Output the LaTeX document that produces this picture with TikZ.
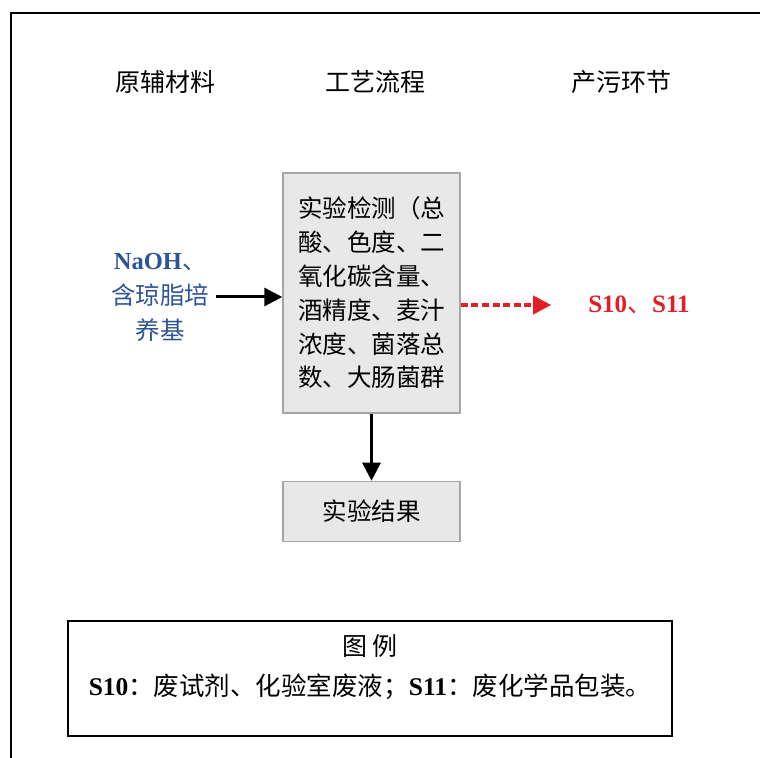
\documentclass[tikz,border=0pt]{standalone}
\usepackage{fontspec}
\setmainfont{Liberation Serif}
\newfontfamily\cjk{Noto Sans CJK SC}
\usepackage{xcolor}
\usepackage{tikz}
\usetikzlibrary{arrows.meta,positioning}
\definecolor{matblue}{RGB}{47,84,150}
\definecolor{polred}{RGB}{228,30,38}
\definecolor{boxgray}{RGB}{232,232,232}

\begin{document}
\begin{tikzpicture}[x=0.5pt,y=-0.5pt,>={Triangle[length=9pt,width=9pt]},
  head/.style={font=\cjk\fontsize{12.5}{15}\selectfont},
  proc/.style={draw=black!35,fill=boxgray,line width=0.7pt,
               font=\cjk\fontsize{12.25}{16.9}\selectfont},
  flow/.style={->,line width=1.5pt}]
  \useasboundingbox (0,0) rectangle (760,758);
  \draw[line width=1pt] (11,758) -- (11,13) -- (760,13);

  \node(h1) at (165,82) [head] {原辅材料};
  \node(h2) at (375,82) [head] {工艺流程};
  \node(h3) at (621,82) [head] {产污环节};

  \node(test) at (371.5,293) [proc, minimum width=88.5pt, minimum height=120pt,
             text width=73.5pt, align=left, inner xsep=7.5pt]
  {实验检测（总\\酸、色度、二\\氧化碳含量、\\酒精度、麦汁\\浓度、菌落总\\数、大肠菌群};

  \node(res)[proc, below=33.5pt of test, minimum width=88.5pt,
             minimum height=30pt] {实验结果};

  \node(mat)[left=33pt of test, yshift=-2pt, align=center, text=matblue,
             font=\fontsize{12.25}{17.5}\selectfont]
  {\bfseries NaOH{\cjk\mdseries 、}\\{\cjk 含琼脂培}\\{\cjk 养基}};

  \node(s) at (639,305) [text=polred, font=\fontsize{12.5}{15}\selectfont]
  {\bfseries S10{\cjk\mdseries 、}S11};

  \draw[flow] (mat) -- (mat -| test.west);
  \draw[flow] (test) -- (res);
  \draw[->,polred,line width=1.8pt,dash pattern=on 3.5pt off 1.8pt,
        shorten >=15pt] (test.east |- s.west) -- (s.west);

  \node(leg) at (370,678.5) [draw, line width=1pt, minimum width=302pt,
             minimum height=57.5pt] {};
  \node(legtitle) at (370,646) [head] {图\ 例};
  \node(legtext) at (370,687) [font=\fontsize{12.75}{15}\selectfont]
  {\bfseries S10{\cjk\mdseries ：废试剂、化验室废液；}S11{\cjk\mdseries ：废化学品包装。}};
\end{tikzpicture}
\end{document}
